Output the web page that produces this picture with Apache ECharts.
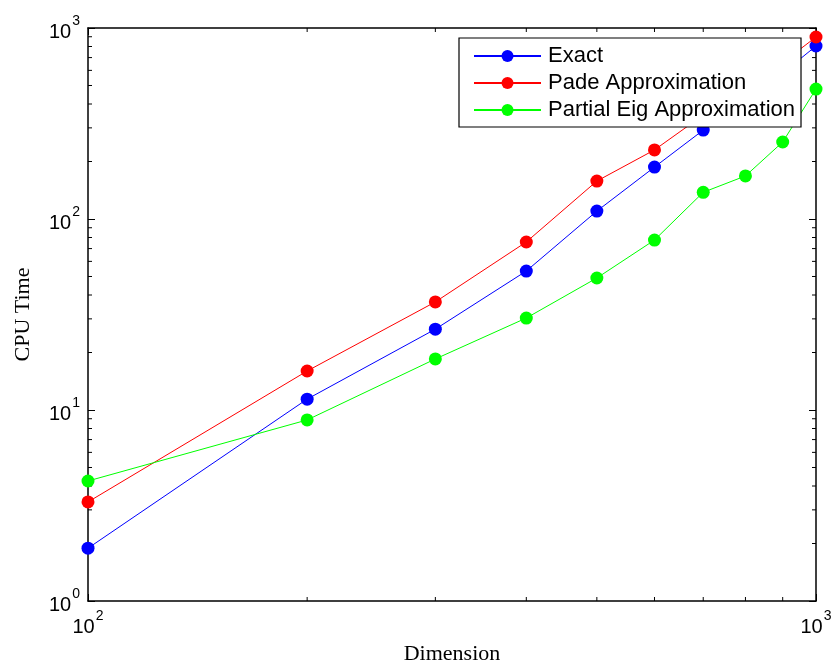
<!DOCTYPE html>
<html>
<head>
<meta charset="utf-8">
<title>CPU Time vs Dimension</title>
<script src="https://cdn.jsdelivr.net/npm/echarts@6/dist/echarts.min.js"></script>
<style>
  html, body { margin: 0; padding: 0; background: #fff; }
  #chart { width: 832px; height: 665px; }
</style>
</head>
<body>
<div id="chart"></div>
<script>
// data (log-log)
var dims = [100, 200, 300, 400, 500, 600, 700, 800, 900, 1000];
var exactTime = [1.89, 11.4, 26.5, 53.4, 110, 187, 292, 410, 580, 805];
var padeTime = [3.30, 16.0, 36.8, 75.8, 158, 230, 350, 480, 660, 897];
var partialTime = [4.25, 8.87, 18.5, 30.3, 49.1, 77.6, 138, 168, 253, 479];
var seriesNames = ['Exact', 'Pade Approximation', 'Partial Eig Approximation'];
var seriesColors = ['#0000ff', '#ff0000', '#00ff00'];

// minor tick positions for the log axes
var minorX = [200, 300, 400, 500, 600, 700, 800, 900];
var minorY = [2, 3, 4, 5, 6, 7, 8, 9, 20, 30, 40, 50, 60, 70, 80, 90, 200, 300, 400, 500, 600, 700, 800, 900];

function pairs(ys) {
    return dims.map(function (d, i) { return [d, ys[i]]; });
}

function powLabel(v) {
    var e = Math.round(Math.log(v) / Math.LN10);
    return '{b|10}{s|' + e + '}';
}

var labelRich = {
    b: { fontSize: 20, fontFamily: 'Liberation Sans', color: '#000', verticalAlign: 'bottom', lineHeight: 28 },
    s: { fontSize: 14, fontFamily: 'Liberation Sans', color: '#000', verticalAlign: 'top', lineHeight: 28, padding: [0, 0, 0, 1] }
};

var axisLineStyle = { color: '#000', width: 1.5 };

function lineSeries(name, ys, color) {
    return {
        name: name,
        type: 'line',
        data: pairs(ys),
        symbol: 'circle',
        symbolSize: 13,
        lineStyle: { color: color, width: 1 },
        itemStyle: { color: color },
        z: 3
    };
}

var chart = echarts.init(document.getElementById('chart'));

var option = {
    animation: false,
    backgroundColor: '#fff',
    grid: { left: 88, right: 16, top: 28, bottom: 64, containLabel: false, outerBoundsMode: 'none' },
    legend: {
        orient: 'vertical',
        left: 459,
        top: 38,
        backgroundColor: '#fff',
        borderColor: '#000',
        borderWidth: 1.2,
        borderRadius: 0,
        padding: [7, 6, 6, 14],
        itemGap: 5,
        itemWidth: 67,
        itemHeight: 15,
        textStyle: { fontSize: 22, fontFamily: 'Liberation Sans', color: '#000', padding: [0, 0, 0, 2] },
        data: seriesNames,
        z: 10
    },
    xAxis: [{
        type: 'log',
        logBase: 10,
        min: 100,
        max: 1000,
        name: 'Dimension',
        nameLocation: 'middle',
        nameGap: 42,
        nameTextStyle: { fontSize: 22, fontFamily: 'Liberation Serif', color: '#000' },
        axisLine: { lineStyle: axisLineStyle },
        axisTick: { inside: true, length: 7, lineStyle: { color: '#000' } },
        axisLabel: { formatter: powLabel, rich: labelRich, margin: 8 },
        splitLine: { show: false }
    }, {
        type: 'log',
        position: 'top',
        min: 100,
        max: 1000,
        axisLine: { lineStyle: axisLineStyle },
        axisTick: { inside: true, length: 7, lineStyle: { color: '#000' } },
        axisLabel: { show: false },
        splitLine: { show: false }
    }],
    yAxis: [{
        type: 'log',
        logBase: 10,
        min: 1,
        max: 1000,
        name: 'CPU Time',
        nameLocation: 'middle',
        nameGap: 54,
        nameRotate: 90,
        nameTextStyle: { fontSize: 22, fontFamily: 'Liberation Serif', color: '#000' },
        axisLine: { lineStyle: axisLineStyle },
        axisTick: { inside: true, length: 7, lineStyle: { color: '#000' } },
        axisLabel: { formatter: powLabel, rich: labelRich, margin: 8 },
        splitLine: { show: false }
    }, {
        type: 'log',
        position: 'right',
        min: 1,
        max: 1000,
        axisLine: { lineStyle: axisLineStyle },
        axisTick: { inside: true, length: 7, lineStyle: { color: '#000' } },
        axisLabel: { show: false },
        splitLine: { show: false }
    }],
    series: [
        lineSeries(seriesNames[0], exactTime, seriesColors[0]),
        lineSeries(seriesNames[1], padeTime, seriesColors[1]),
        lineSeries(seriesNames[2], partialTime, seriesColors[2]),
        {
            // minor ticks on bottom and top
            type: 'custom',
            silent: true,
            data: minorX.map(function (v) { return [v, 1]; }),
            renderItem: function (params, api) {
                var b = api.coord([api.value(0), 1]);
                var t = api.coord([api.value(0), 1000]);
                return {
                    type: 'group',
                    children: [
                        { type: 'line', shape: { x1: b[0], y1: b[1], x2: b[0], y2: b[1] - 4 }, style: { stroke: '#000', lineWidth: 1 } },
                        { type: 'line', shape: { x1: t[0], y1: t[1], x2: t[0], y2: t[1] + 4 }, style: { stroke: '#000', lineWidth: 1 } }
                    ]
                };
            },
            z: 1
        },
        {
            // minor ticks on left and right
            type: 'custom',
            silent: true,
            data: minorY.map(function (v) { return [100, v]; }),
            renderItem: function (params, api) {
                var l = api.coord([100, api.value(1)]);
                var r = api.coord([1000, api.value(1)]);
                return {
                    type: 'group',
                    children: [
                        { type: 'line', shape: { x1: l[0], y1: l[1], x2: l[0] + 4, y2: l[1] }, style: { stroke: '#000', lineWidth: 1 } },
                        { type: 'line', shape: { x1: r[0], y1: r[1], x2: r[0] - 4, y2: r[1] }, style: { stroke: '#000', lineWidth: 1 } }
                    ]
                };
            },
            z: 1
        }
    ]
};

chart.setOption(option);
</script>
</body>
</html>
